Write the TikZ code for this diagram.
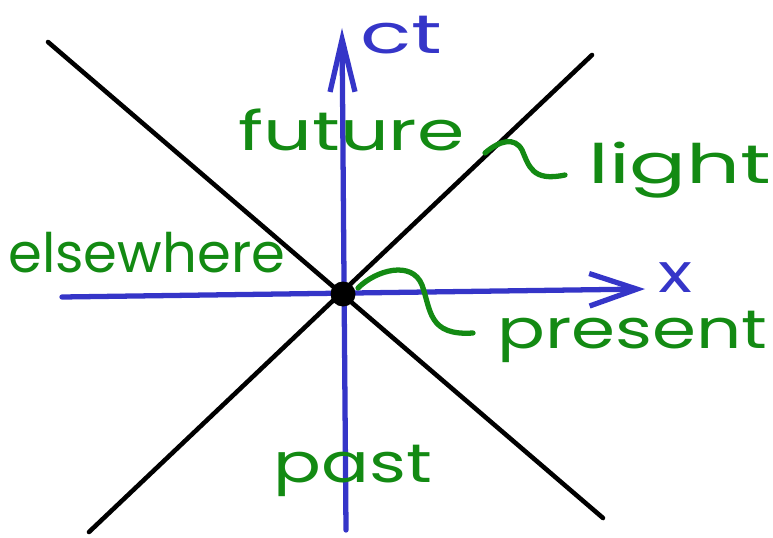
\documentclass[tikz,border=0pt]{standalone}
\usepackage{fontspec}
\usepackage{graphicx}
\usetikzlibrary{arrows.meta}
\newfontfamily\handfont{Poppins}
\definecolor{penblue}{HTML}{3535C8}
\definecolor{pengreen}{HTML}{138A13}
\newcommand{\wide}[2][1.3]{\scalebox{#1}[1]{#2}}

\begin{document}
\begin{tikzpicture}[x=0.02cm,y=-0.02cm,
  cone/.style={line width=2.6pt,draw=black,line cap=round},
  axis/.style={line width=3pt,draw=penblue,line cap=round},
  squig/.style={line width=3pt,draw=pengreen,line cap=round},
  hand/.style={font=\handfont\fontsize{31}{37}\selectfont,text=pengreen,
               inner sep=0pt,anchor=base west},
  axlbl/.style={hand,text=penblue}
]
\useasboundingbox (0,0) rectangle (773,537);
% light cone
\coordinate (coneNW) at (48,42);
\coordinate (coneSE) at (603,518);
\coordinate (coneSW) at (89,532);
\coordinate (coneNE) at (592,55);
\draw[cone] (coneNW) -- (coneSE);
\draw[cone] (coneSW) -- (coneNE);
% axes
\coordinate (tlow) at (346,530);
\coordinate (ttop) at (342,28);
\coordinate (xlow) at (62,297);
\coordinate (xtop) at (645,289);
\draw[axis,-{Straight Barb[length=1.05cm,width=0.5cm]}] (tlow) -- (ttop);
\draw[axis,-{Straight Barb[length=0.95cm,width=0.65cm]}] (xlow) -- (xtop);
\node[axlbl] (ct) at (360,53) {\wide[1.55]{ct}};
\node[axlbl] (xl) at (658,292) {\wide{x}};
% event
\node[circle,fill=black,minimum size=0.5cm,inner sep=0pt] (here) at (343,294) {};
% regions
\node[hand] (future) at (238,150) {\wide[1.4]{future}};
\node[hand] (elsewhere) at (8,272) {\wide[1.0]{elsewhere}};
\node[hand] (past) at (273,482) {\wide{past}};
\node[hand] (light) at (588,183) {\wide[1.55]{light}};
\node[hand] (present) at (497,348) {\wide{present}};
% squiggles
\coordinate (lighthead) at (485,153);
\coordinate (lighttail) at (565,175);
\draw[squig] (lighthead) .. controls (500,140) and (515,137) .. (522,150)
             .. controls (529,166) and (532,182) .. (lighttail);
\coordinate (presenthead) at (358,288);
\coordinate (presenttail) at (473,333);
\draw[squig] (presenthead) .. controls (376,270) and (412,260) .. (422,285)
             .. controls (431,310) and (428,336) .. (presenttail);
\end{tikzpicture}
\end{document}
